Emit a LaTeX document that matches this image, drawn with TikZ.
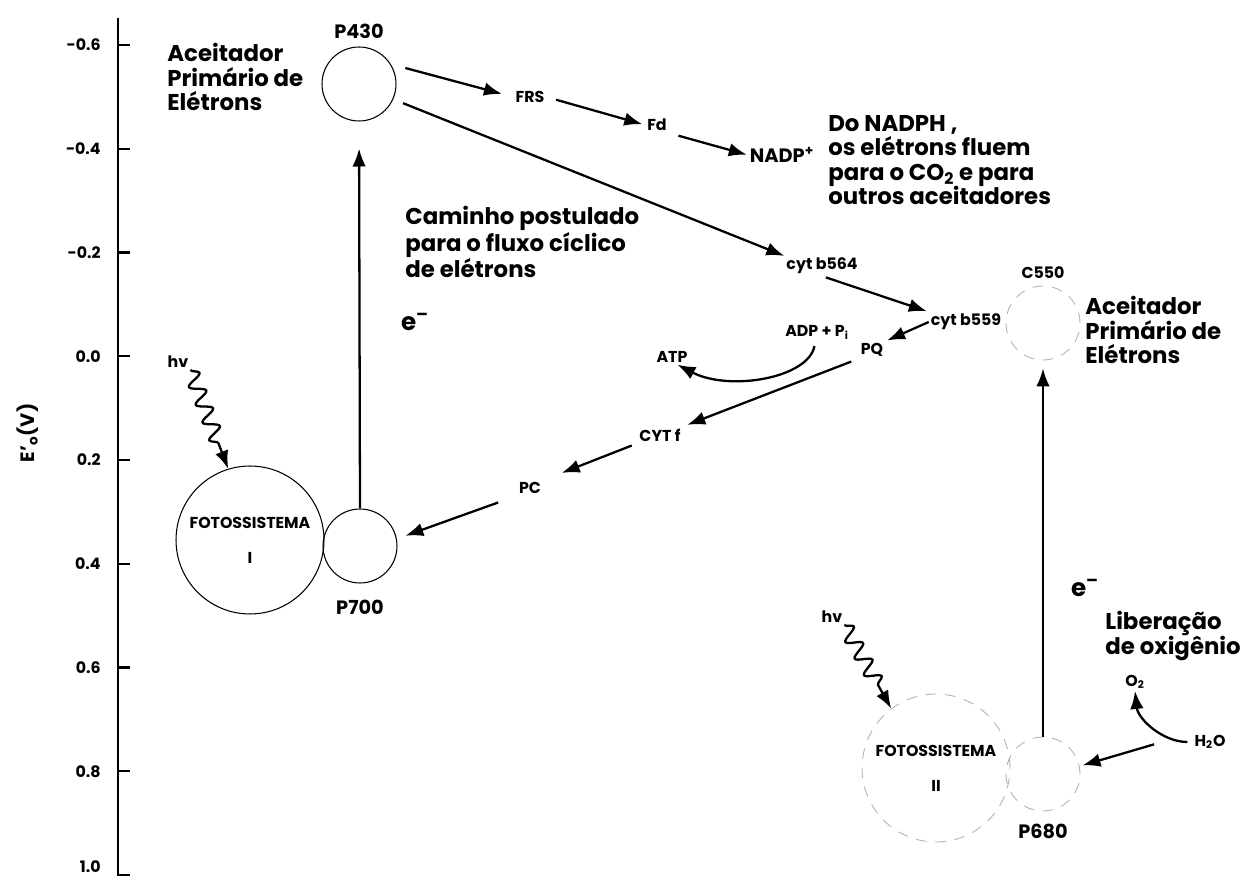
\documentclass[tikz,border=0pt]{standalone}
\usepackage{fontspec}
\setmainfont{Poppins}
\usetikzlibrary{arrows.meta,positioning,decorations.pathmorphing}

\begin{document}
\begin{tikzpicture}[
  x=0.02cm, y=-0.02cm,
  big/.style={font=\fontsize{13}{14}\selectfont\bfseries, align=left, inner sep=0pt, anchor=west},
  mid/.style={font=\fontsize{11}{12}\selectfont\bfseries, inner sep=1pt},
  lab/.style={font=\fontsize{9}{10}\selectfont\bfseries, inner sep=1pt},
  tick/.style={font=\fontsize{9}{11}\selectfont\bfseries, inner sep=0pt, anchor=east},
  elec/.style={font=\fontsize{14}{16}\selectfont\bfseries, inner sep=0pt},
  pigment/.style={circle, draw, line width=0.6pt, minimum size=1.48cm, inner sep=0pt},
  photosys/.style={circle, draw, line width=0.6pt, minimum size=2.96cm, inner sep=0pt,
                   font=\fontsize{9}{11}\selectfont\bfseries, align=center},
  faint/.style={draw=black!30, line width=0.5pt, dash pattern=on 6pt off 5pt},
  arr/.style={-{Latex[length=0.36cm, width=0.27cm]}, line width=1.3pt},
  photon/.style={arr, decorate, decoration={snake, amplitude=0.15cm, segment length=0.38cm, post length=0.36cm}},
]
\useasboundingbox (0,0) rectangle (1255,881);

% eixo de potencial
\draw[line width=1.5pt] (118,18) -- (118,875) -- (130,875);
\foreach \v [count=\i from 0] in {-0.6,-0.4,-0.2,0.0,0.2,0.4,0.6,0.8}
  \draw[line width=1.2pt] (118,45+103.75*\i) -- (130,45+103.75*\i);
\foreach \v [count=\i from 0] in {-0.6,-0.4,-0.2,0.0,0.2,0.4,0.6,0.8}
  \node[tick] (tick\i) at (101,45+103.75*\i) {\v};
\node[tick] (tick8) at (101,867) {1.0};
\node[mid, rotate=90] (eixo) at (28,433) {E’\textsubscript{o}(V)};

% fotossistema I
\node[pigment] (p430) at (359,84) {};
\node[mid, above=3pt of p430] (p430lab) {P430};
\node[photosys] (psI) at (250,540) {FOTOSSISTEMA\\[9pt]I};
\node[pigment] (p700) at (360,546) {};
\node[mid, below=8pt of p700] (p700lab) {P700};
\node[big] (acI) at (167,77) {Aceitador\\Primário de\\Elétrons};
\node[lab] (hvI) at (178,362) {hv};
\node[elec] (eI) at (415,322) {e\textsuperscript{--}};

% fotossistema II
\node[pigment, faint] (c550) at (1043,323) {};
\node[lab, above=3pt of c550] (c550lab) {C550};
\node[photosys, faint] (psII) at (936,768) {FOTOSSISTEMA\\[9pt]II};
\node[pigment, faint] (p680) at (1043,774) {};
\node[mid, below=6pt of p680] (p680lab) {P680};
\node[big] (acII) at (1085,330) {Aceitador\\Primário de\\Elétrons};
\node[lab] (hvII) at (832,617) {hv};
\node[elec] (eII) at (1085,588) {e\textsuperscript{--}};
\node[big] (liber) at (1105,636) {Liberação\\de oxigênio};
\node[lab] (o2) at (1135,682) {O\textsubscript{2}};
\node[lab] (h2o) at (1210,742) {H\textsubscript{2}O};

% transportadores
\node[lab] (frs) at (530,97) {FRS};
\node[lab] (fd) at (657,125) {Fd};
\node[mid] (nadp) at (782,155) {NADP\textsuperscript{+}};
\node[big] (nadph) at (828,160) {Do NADPH ,\\os elétrons fluem\\para o CO\textsubscript{2} e para\\outros aceitadores};
\node[big] (ciclico) at (405,242) {Caminho postulado\\para o fluxo cíclico\\de elétrons};
\node[lab] (b564) at (822,266) {cyt b564};
\node[lab] (b559) at (966,322) {cyt b559};
\node[lab] (adp) at (817,332) {ADP + P\textsubscript{i}};
\node[lab] (pq) at (872,350) {PQ};
\node[lab] (atp) at (672,357) {ATP};
\node[lab] (cytf) at (660,435) {CYT f};
\node[lab] (pc) at (530,488) {PC};

% fluxo de eletrons
\draw[arr, shorten <=0.3cm, shorten >=0.24cm] (p430.32) -- (frs.west);
\draw[arr, shorten <=0.2cm, shorten >=0.06cm] (frs.east) -- (fd.west);
\draw[arr, shorten <=0.2cm, shorten >=0.02cm] (fd.south east) -- (nadp.west);
\draw[arr, shorten <=0.21cm] (p430.-24) -- (b564.north west);
\draw[arr, shorten <=0.08cm, shorten >=0.04cm] (b564.south) -- (b559.north west);
\draw[arr, shorten >=0.04cm] (b559.west) -- (pq.north east);
\draw[arr, shorten <=0.16cm, shorten >=0.1cm] (pq.south west) -- (cytf.north east);
\draw[arr, shorten <=0.12cm, shorten >=0.4cm] (cytf.south west) -- (pc.north east);
\draw[arr, shorten <=0.4cm, shorten >=0.18cm] (pc.south west) -- (p700.11);
\draw[arr, shorten >=0.54cm] (p700.north) -- (p430.south);
\draw[arr, shorten >=0.16cm] (p680.north) -- (c550.south);
\draw[arr, shorten <=0.8cm, shorten >=0.06cm] (h2o.north west) -- (p680.12);
\draw[arr, shorten <=0.1cm] (h2o.west) .. controls +(-30,0) and +(3,28) .. (o2.south);
\draw[arr, shorten <=0.1cm] (adp.-100) .. controls +(-7,37) and +(52,27) .. (atp.-55);

% luz
\draw[photon] (hvI.south east) -- (psI.107);
\draw[photon] (hvII.south east) -- (psII.127);

\end{tikzpicture}
\end{document}
